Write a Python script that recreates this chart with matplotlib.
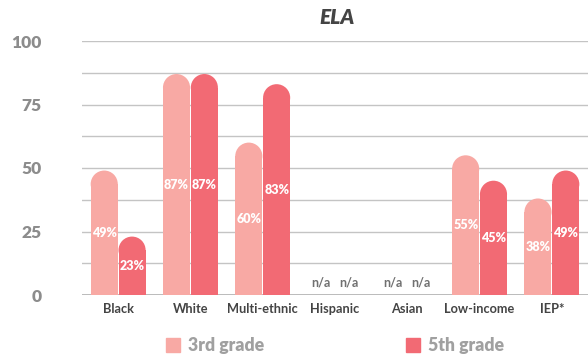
import matplotlib.pyplot as plt
from matplotlib.patches import Ellipse, Rectangle
import numpy as np

# dados
grupos = ['Black', 'White', 'Multi-ethnic', 'Hispanic', 'Asian', 'Low-income', 'IEP*']
terceiro = [49, 87, 60, None, None, 55, 38]
quinto = [23, 87, 83, None, None, 45, 49]
series_nomes = ['3rd grade', '5th grade']
yticks = [0, 25, 50, 75, 100]

cor_3 = '#F8A9A4'
cor_5 = '#F26A74'

plt.rcParams['font.family'] = ['Lato', 'DejaVu Sans']

fig = plt.figure(figsize=(5.88, 3.55), dpi=100)
ax = fig.add_axes([82 / 588, 1 - 295 / 355, 506 / 588, 254 / 355])
ax.set_xlim(-0.5, len(grupos) - 0.5)
ax.set_ylim(0, 100)

# grade a cada 12.5
for g in np.arange(12.5, 100.1, 12.5):
    ax.axhline(g, color='#c4c4c4', lw=1, zorder=0)
ax.axhline(0, color='#b5b5b5', lw=1.3, zorder=0)

for s in ax.spines.values():
    s.set_visible(False)

w = 0.375
x = np.arange(len(grupos))

# escala em pixels para arredondar o topo
fig.canvas.draw()
p0 = ax.transData.transform((0, 0))
p1 = ax.transData.transform((1, 1))
px_x = p1[0] - p0[0]
px_y = p1[1] - p0[1]
r_y = (w * px_x / 2) / px_y


def barra(xc, v, cor):
    if v is None:
        ax.text(xc, 5, 'n/a', ha='center', va='center', color='#707070',
                fontsize=9, fontweight='bold')
        return
    ax.bar(xc, v - r_y, width=w, color=cor, zorder=2, linewidth=0)
    ax.add_patch(Ellipse((xc, v - r_y), w, 2 * r_y, color=cor, zorder=2, lw=0))
    ax.text(xc, v / 2, f'{v}%', ha='center', va='center', color='white',
            fontsize=9, fontweight='heavy', zorder=3)


for i in range(len(grupos)):
    barra(x[i] - w / 2 - 0.005, terceiro[i], cor_3)
    barra(x[i] + w / 2 + 0.005, quinto[i], cor_5)

ax.set_yticks(yticks)
ax.set_yticklabels([str(t) for t in yticks], fontsize=12.5, fontweight='heavy', color='#8c8c8c')
ax.tick_params(axis='y', length=0, pad=29)
ax.set_xticks(x)
ax.set_xticklabels(grupos, fontsize=9.2, fontweight='bold', color='#444444')
ax.tick_params(axis='x', length=0, pad=6)

fig.text(337 / 588, 1 - 18 / 355, 'ELA', ha='center', va='center', fontsize=15,
         fontweight='heavy', fontstyle='italic', color='#444444')

# legenda
for cor, nome, xq in [(cor_3, series_nomes[0], 166), (cor_5, series_nomes[1], 406)]:
    fig.patches.append(Rectangle((xq / 588, 1 - 352 / 355), 14 / 588, 14 / 355,
                                 transform=fig.transFigure, color=cor))
    fig.text((xq + 22) / 588, 1 - 345 / 355, nome, ha='left', va='center',
             fontsize=12.7, fontweight='heavy', color='#a0a0a0')

plt.savefig('out.png', dpi=100)
